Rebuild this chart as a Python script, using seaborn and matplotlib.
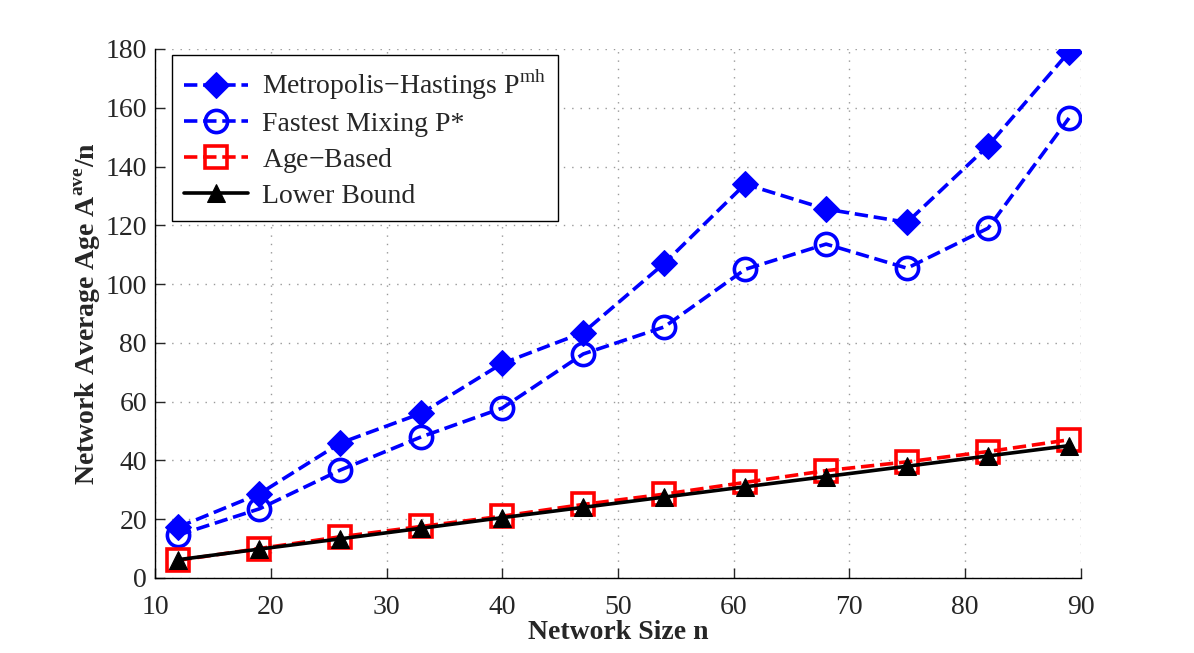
import pandas as pd
import numpy as np
import seaborn as sns
import matplotlib.pyplot as plt

network_size = [12, 19, 26, 33, 40, 47, 54, 61, 68, 75, 82, 89]
metropolis = [17.3, 28.6, 45.9, 56, 73, 83.5, 107, 134, 125.5, 121, 147, 179]
fastest = [14.6, 23.5, 36.7, 48, 57.8, 76.2, 85.4, 105, 113.6, 105.4, 119, 156.5]
age_based = [6, 10, 14, 17.5, 21, 25, 28.5, 32.5, 36.5, 39.5, 43, 47]
lower_bound = [6.2, 9.8, 13.3, 16.9, 20.5, 24, 27.5, 31, 34.5, 38, 41.5, 45]

sns.set_style('white')
plt.rcParams['font.family'] = ['Liberation Serif', 'DejaVu Serif']
plt.rcParams['mathtext.fontset'] = 'custom'
plt.rcParams['mathtext.rm'] = 'Liberation Serif'
plt.rcParams['mathtext.bf'] = 'Liberation Serif:bold'

fig = plt.figure(figsize=(11.94, 6.53), dpi=100)
ax = fig.add_axes([0.13, 0.115, 0.775, 0.81])

df = pd.DataFrame({'n': network_size, 'mh': metropolis, 'fm': fastest,
                   'ab': age_based, 'lb': lower_bound})

LW = 2.6
sns.lineplot(data=df, x='n', y='mh', ax=ax, color='#0000ff', linestyle='--', lw=LW,
             marker='D', markersize=13, markerfacecolor='#0000ff', markeredgecolor='#0000ff',
             label='Metropolis$-$Hastings P$^{\\mathrm{mh}}$')
sns.lineplot(data=df, x='n', y='fm', ax=ax, color='#0000ff', linestyle='--', lw=LW,
             marker='o', markersize=16, markerfacecolor='none', markeredgecolor='#0000ff',
             markeredgewidth=2.6, label='Fastest Mixing P*')
sns.lineplot(data=df, x='n', y='ab', ax=ax, color='#ff0000', linestyle='--', lw=LW,
             marker='s', markersize=16, markerfacecolor='none', markeredgecolor='#ff0000',
             markeredgewidth=2.6, label='Age$-$Based')
sns.lineplot(data=df, x='n', y='lb', ax=ax, color='black', linestyle='-', lw=LW,
             marker='^', markersize=13, markerfacecolor='black', markeredgecolor='black',
             label='Lower Bound')

ax.set_xlim(10, 90)
ax.set_ylim(0, 180)
ax.set_xticks(np.arange(10, 91, 10))
ax.set_yticks(np.arange(0, 181, 20))
ax.grid(True, linestyle=(0, (1, 5)), color='#999999', linewidth=1)
ax.tick_params(direction='in', length=7, width=1, labelsize=20, bottom=True, left=True,
               top=False, right=False)
ax.tick_params(axis='x', pad=12)
ax.tick_params(axis='y', pad=6)
ax.spines['top'].set_visible(False)
ax.spines['right'].set_visible(False)
for s in ['left', 'bottom']:
    ax.spines[s].set_color('black')
    ax.spines[s].set_linewidth(1)

ax.set_xlabel('Network Size n', fontsize=20, fontweight='bold', labelpad=0)
ax.set_ylabel('Network Average Age A$^{\\mathbf{ave}}$/n', fontsize=20, fontweight='bold', labelpad=2)

leg = ax.legend(loc='upper left', bbox_to_anchor=(0.018, 0.988), fontsize=20, frameon=True,
                fancybox=False, edgecolor='black', framealpha=1, handlelength=2.3,
                borderaxespad=0, labelspacing=0.32, handletextpad=0.5, borderpad=0.45)
leg.get_frame().set_linewidth(1)

fig.savefig('out.png', dpi=100)
